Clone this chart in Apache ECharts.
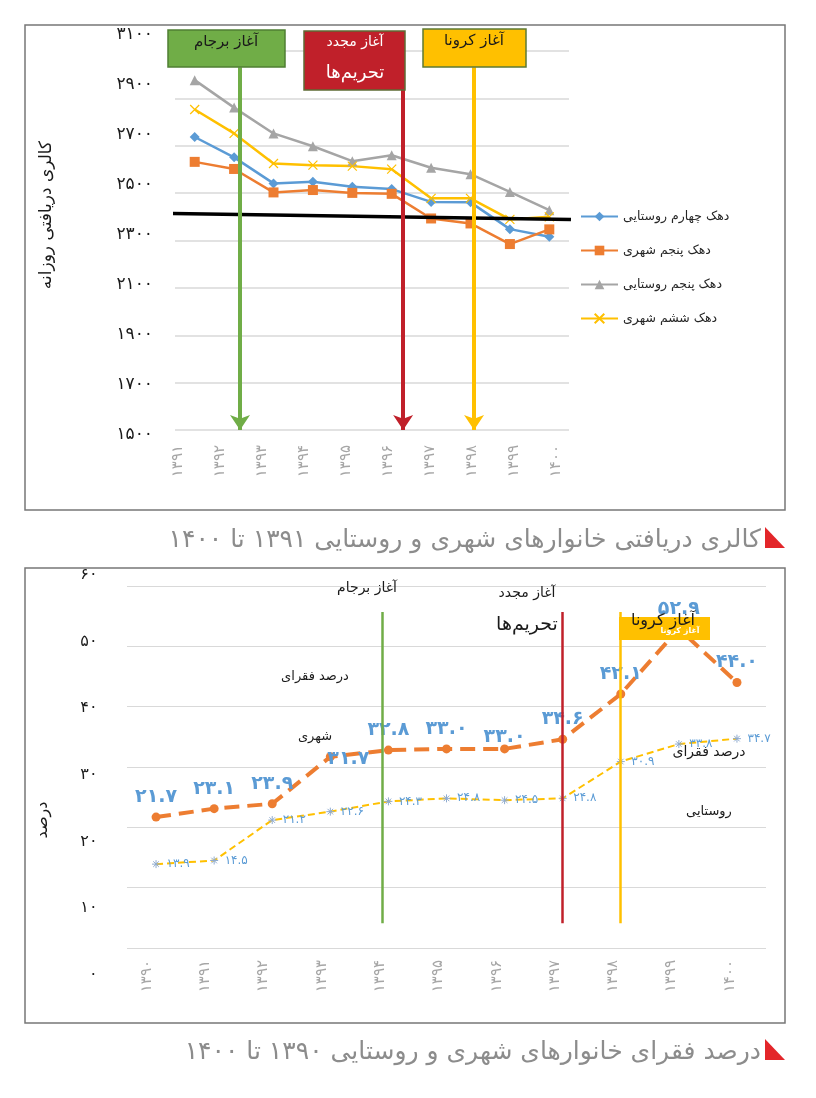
<!DOCTYPE html>
<html>
<head>
<meta charset="utf-8">
<script src="https://cdn.jsdelivr.net/npm/echarts@6/dist/echarts.min.js"></script>
<style>html,body{margin:0;padding:0;background:#fff}#c{width:816px;height:1098px}</style>
</head>
<body>
<div id="c"></div>
<script>
// ---------- Top chart data ----------
const topYears = ['1391','1392','1393','1394','1395','1396','1397','1398','1399','1400'];
const topYTicks = { min: 1500, max: 3100, step: 200 };
const dahak4Rural = [2737, 2651, 2541, 2548, 2527, 2517, 2463, 2461, 2348, 2316];
const dahak5Urban = [2632, 2602, 2503, 2513, 2501, 2497, 2393, 2372, 2285, 2347];
const dahak5Rural = [2977, 2861, 2752, 2698, 2635, 2660, 2607, 2580, 2505, 2428];
const dahak6Urban = [2853, 2752, 2625, 2618, 2614, 2601, 2478, 2478, 2389, 2400];
const topSeriesNames = ['دهک چهارم روستایی', 'دهک پنجم شهری', 'دهک پنجم روستایی', 'دهک ششم شهری'];
const thresholdLine = [[-0.65, 2414], [9.55, 2389]];
const topEventX = [1.15, 5.29, 7.09];
const topEventRange = [3031, 1500];

// ---------- Bottom chart data ----------
const bottomYears = ['1390','1391','1392','1393','1394','1395','1396','1397','1398','1399','1400'];
const bottomYTicks = { min: 0, max: 60, step: 10 };
const urbanPoverty = [21.7, 23.1, 23.9, 31.7, 32.8, 33.0, 33.0, 34.6, 42.1, 52.9, 44.0];
const ruralPoverty = [13.9, 14.5, 21.2, 22.6, 24.3, 24.8, 24.5, 24.8, 30.9, 33.8, 34.7];
const bottomEventX = [3.89, 6.99, 7.99];
const bottomEventRange = [55.7, 4.1];

const FONT = 'DejaVu Sans';
const fa = s => String(s).replace(/\d/g, d => '۰۱۲۳۴۵۶۷۸۹'[d]);

const BLUE = '#5b9bd5', ORANGE = '#ed7d31', GRAY = '#a5a5a5', YELLOW = '#ffc000';
const GREEN = '#70ad47', RED = '#c0202a';

const crossPath = 'path://M0,0L10,10M10,0L0,10';
const starPath = 'path://M0,5L10,5M5,0L5,10M1.5,1.5L8.5,8.5M8.5,1.5L1.5,8.5';

const chart = echarts.init(document.getElementById('c'), null, { renderer: 'canvas' });

function eventLines(xs, range, colors, width, arrow, xIdx, yIdx) {
  return {
    type: 'lines', coordinateSystem: 'cartesian2d', xAxisIndex: xIdx, yAxisIndex: yIdx,
    polyline: false, silent: true, z: 5,
    symbol: arrow ? ['none', 'arrow'] : ['none', 'none'], symbolSize: arrow ? 15 : 0,
    lineStyle: { width: width, opacity: 1, curveness: 0 },
    data: xs.map((x, i) => ({ coords: [[x, range[0]], [x, range[1]]], lineStyle: { color: colors[i] } }))
  };
}

const option = {
  backgroundColor: '#fff',
  animation: false,
  textStyle: { fontFamily: FONT },
  grid: [
    { left: 175, width: 394, top: 51, height: 379 },
    { left: 157, width: 420, top: 35, height: 400 },
    { left: 127, width: 639, top: 586, height: 362 },
    { left: 117.5, width: 641.6, top: 575, height: 400 }
  ],
  xAxis: [
    { type: 'category', gridIndex: 0, data: topYears, axisLabel: { show: false }, axisLine: { show: false }, axisTick: { show: false } },
    { type: 'value', gridIndex: 0, min: -0.5, max: 9.5, show: false },
    { type: 'category', gridIndex: 1, data: topYears, axisLine: { show: false }, axisTick: { show: false },
      axisLabel: { rotate: 90, margin: 10, color: '#a6a6a6', fontSize: 15, fontFamily: FONT, formatter: v => fa(v) } },
    { type: 'category', gridIndex: 2, data: bottomYears, axisLabel: { show: false }, axisLine: { show: false }, axisTick: { show: false } },
    { type: 'value', gridIndex: 2, min: -0.5, max: 10.5, show: false },
    { type: 'category', gridIndex: 3, data: bottomYears, axisLine: { show: false }, axisTick: { show: false }, offset: -19,
      axisLabel: { rotate: 90, margin: 4, color: '#a6a6a6', fontSize: 15, fontFamily: FONT, formatter: v => fa(v) } }
  ],
  yAxis: [
    { type: 'value', gridIndex: 0, min: topYTicks.min, max: topYTicks.max, interval: topYTicks.step,
      axisLabel: { show: false }, axisLine: { show: false }, axisTick: { show: false },
      splitLine: { lineStyle: { color: '#d9d9d9', width: 1.5 } } },
    { type: 'value', gridIndex: 1, min: topYTicks.min, max: topYTicks.max, interval: topYTicks.step,
      axisLine: { show: false }, axisTick: { show: false }, splitLine: { show: false },
      axisLabel: { margin: 4, color: '#1a1a1a', fontSize: 17, fontFamily: FONT, formatter: v => fa(v) } },
    { type: 'value', gridIndex: 2, min: bottomYTicks.min, max: bottomYTicks.max, interval: bottomYTicks.step,
      axisLabel: { show: false }, axisLine: { show: false }, axisTick: { show: false },
      splitLine: { lineStyle: { color: '#d9d9d9', width: 1.2 } } },
    { type: 'value', gridIndex: 3, min: bottomYTicks.min, max: bottomYTicks.max, interval: bottomYTicks.step,
      axisLine: { show: false }, axisTick: { show: false }, splitLine: { show: false },
      axisLabel: { margin: 20, color: '#1a1a1a', fontSize: 16, fontFamily: FONT, formatter: v => fa(v) } }
  ],
  legend: {
    orient: 'vertical', left: 575, top: 205, itemWidth: 37, itemHeight: 12, itemGap: 21,
    textStyle: { fontFamily: FONT, fontSize: 12.5, color: '#262626' },
    data: topSeriesNames
  },
  series: [
    { name: topSeriesNames[0], type: 'line', xAxisIndex: 0, yAxisIndex: 0, data: dahak4Rural,
      symbol: 'diamond', symbolSize: 10, color: BLUE, lineStyle: { width: 2.5, color: BLUE }, itemStyle: { color: BLUE }, z: 3 },
    { name: topSeriesNames[1], type: 'line', xAxisIndex: 0, yAxisIndex: 0, data: dahak5Urban,
      symbol: 'rect', symbolSize: 10, color: ORANGE, lineStyle: { width: 2.5, color: ORANGE }, itemStyle: { color: ORANGE }, z: 3 },
    { name: topSeriesNames[2], type: 'line', xAxisIndex: 0, yAxisIndex: 0, data: dahak5Rural,
      symbol: 'triangle', symbolSize: 10, color: GRAY, lineStyle: { width: 2.5, color: GRAY }, itemStyle: { color: GRAY }, z: 3 },
    { name: topSeriesNames[3], type: 'line', xAxisIndex: 0, yAxisIndex: 0, data: dahak6Urban,
      symbol: crossPath, symbolSize: 9, color: YELLOW, lineStyle: { width: 2.5, color: YELLOW },
      itemStyle: { color: YELLOW, borderColor: YELLOW, borderWidth: 1.2 }, z: 3 },
    { type: 'line', xAxisIndex: 1, yAxisIndex: 0, data: thresholdLine, symbol: 'none', clip: false,
      lineStyle: { color: '#000', width: 3.5 }, z: 4, silent: true },
    eventLines(topEventX, topEventRange, [GREEN, RED, YELLOW], 4, true, 1, 0),

    // bottom chart
    { type: 'line', xAxisIndex: 3, yAxisIndex: 2, data: urbanPoverty.map((v, i) => {
        if (i === 3) return { value: v, label: { offset: [18, 22] } };
        if (i === 6) return { value: v, label: { offset: [0, 8] } };
        return v;
      }),
      symbol: 'circle', symbolSize: 9, lineStyle: { color: ORANGE, width: 4, type: [15, 8] }, itemStyle: { color: ORANGE }, z: 3,
      label: { show: true, position: 'top', distance: 6, color: BLUE, fontSize: 19, fontWeight: 'bold', fontFamily: FONT,
        formatter: p => fa(p.value.toFixed(1)) } },
    { type: 'line', xAxisIndex: 3, yAxisIndex: 2, data: ruralPoverty,
      symbol: starPath, symbolSize: 8, lineStyle: { color: YELLOW, width: 2, type: [7, 4] },
      itemStyle: { color: 'rgba(0,0,0,0)', borderColor: '#8fabd0', borderWidth: 1 }, z: 3,
      label: { show: true, position: 'right', distance: 6, color: BLUE, fontSize: 12, fontFamily: FONT,
        formatter: p => fa(p.value.toFixed(1)) } },
    eventLines(bottomEventX, bottomEventRange, [GREEN, RED, YELLOW], 2.5, false, 4, 2)
  ],
  graphic: [
    // frames
    { type: 'rect', shape: { x: 25, y: 25, width: 760, height: 485 }, style: { fill: 'none', stroke: '#777', lineWidth: 1.5 }, z: 100 },
    { type: 'rect', shape: { x: 25, y: 568, width: 760, height: 455 }, style: { fill: 'none', stroke: '#777', lineWidth: 1.5 }, z: 100 },
    // top axis title
    { type: 'text', x: 47, y: 215, rotation: Math.PI / 2, z: 100,
      style: { text: 'کالری دریافتی روزانه', font: '17px "DejaVu Sans"', fill: '#1a1a1a', align: 'center', verticalAlign: 'middle' } },
    // top event boxes
    { type: 'rect', shape: { x: 168, y: 30, width: 117, height: 37 }, style: { fill: GREEN, stroke: '#4f7f33', lineWidth: 1.5 }, z: 100 },
    { type: 'text', x: 226, y: 42, z: 101, style: { text: 'آغاز برجام', font: '15px "DejaVu Sans"', fill: '#1a1a1a', align: 'center', verticalAlign: 'middle' } },
    { type: 'rect', shape: { x: 304, y: 31, width: 101, height: 59 }, style: { fill: RED, stroke: '#5d6b35', lineWidth: 1.5 }, z: 100 },
    { type: 'text', x: 355, y: 42, z: 101, style: { text: 'آغاز مجدد', font: '14px "DejaVu Sans"', fill: '#fff', align: 'center', verticalAlign: 'middle' } },
    { type: 'text', x: 355, y: 73, z: 101, style: { text: 'تحریم‌ها', font: '18px "DejaVu Sans"', fill: '#fff', align: 'center', verticalAlign: 'middle' } },
    { type: 'rect', shape: { x: 423, y: 29, width: 103, height: 38 }, style: { fill: YELLOW, stroke: '#5d7a35', lineWidth: 1.5 }, z: 100 },
    { type: 'text', x: 474, y: 41, z: 101, style: { text: 'آغاز کرونا', font: '15px "DejaVu Sans"', fill: '#1a1a1a', align: 'center', verticalAlign: 'middle' } },
    // captions
    { type: 'polygon', shape: { points: [[765, 527], [765, 548], [785, 548]] }, style: { fill: '#e3262a' }, z: 100 },
    { type: 'text', x: 761, y: 540, z: 100, style: { text: 'کالری دریافتی خانوارهای شهری و روستایی ۱۳۹۱ تا ۱۴۰۰', font: '25px "DejaVu Sans"', fill: '#8c8c8c', align: 'right', verticalAlign: 'middle' } },
    { type: 'polygon', shape: { points: [[765, 1039], [765, 1060], [785, 1060]] }, style: { fill: '#e3262a' }, z: 100 },
    { type: 'text', x: 761, y: 1052, z: 100, style: { text: 'درصد فقرای خانوارهای شهری و روستایی ۱۳۹۰ تا ۱۴۰۰', font: '25px "DejaVu Sans"', fill: '#8c8c8c', align: 'right', verticalAlign: 'middle' } },
    // bottom annotations
    { type: 'text', x: 43, y: 820, rotation: Math.PI / 2, z: 100,
      style: { text: 'درصد', font: '16px "DejaVu Sans"', fill: '#1a1a1a', align: 'center', verticalAlign: 'middle' } },
    { type: 'text', x: 367, y: 588, z: 100, style: { text: 'آغاز برجام', font: '14px "DejaVu Sans"', fill: '#1a1a1a', align: 'center', verticalAlign: 'middle' } },
    { type: 'text', x: 527, y: 593, z: 100, style: { text: 'آغاز مجدد', font: '14px "DejaVu Sans"', fill: '#1a1a1a', align: 'center', verticalAlign: 'middle' } },
    { type: 'text', x: 527, y: 625, z: 100, style: { text: 'تحریم‌ها', font: '19px "DejaVu Sans"', fill: '#1a1a1a', align: 'center', verticalAlign: 'middle' } },
    { type: 'rect', shape: { x: 619, y: 617, width: 91, height: 23 }, style: { fill: YELLOW }, z: 99 },
    { type: 'text', x: 680, y: 631, z: 100, style: { text: 'آغاز کرونا', font: 'bold 8px "DejaVu Sans"', fill: '#fff', align: 'center', verticalAlign: 'middle' } },
    { type: 'text', x: 663, y: 621, z: 101, style: { text: 'آغاز کرونا', font: '16px "DejaVu Sans"', fill: '#1a1a1a', align: 'center', verticalAlign: 'middle' } },
    { type: 'text', x: 315, y: 677, z: 100, style: { text: 'درصد فقرای', font: '13px "DejaVu Sans"', fill: '#1a1a1a', align: 'center', verticalAlign: 'middle' } },
    { type: 'text', x: 315, y: 737, z: 100, style: { text: 'شهری', font: '13px "DejaVu Sans"', fill: '#1a1a1a', align: 'center', verticalAlign: 'middle' } },
    { type: 'text', x: 709, y: 752, z: 100, style: { text: 'درصد فقرای', font: '14px "DejaVu Sans"', fill: '#1a1a1a', align: 'center', verticalAlign: 'middle' } },
    { type: 'text', x: 709, y: 812, z: 100, style: { text: 'روستایی', font: '13px "DejaVu Sans"', fill: '#1a1a1a', align: 'center', verticalAlign: 'middle' } }
  ]
};
chart.setOption(option);
</script>
</body>
</html>
